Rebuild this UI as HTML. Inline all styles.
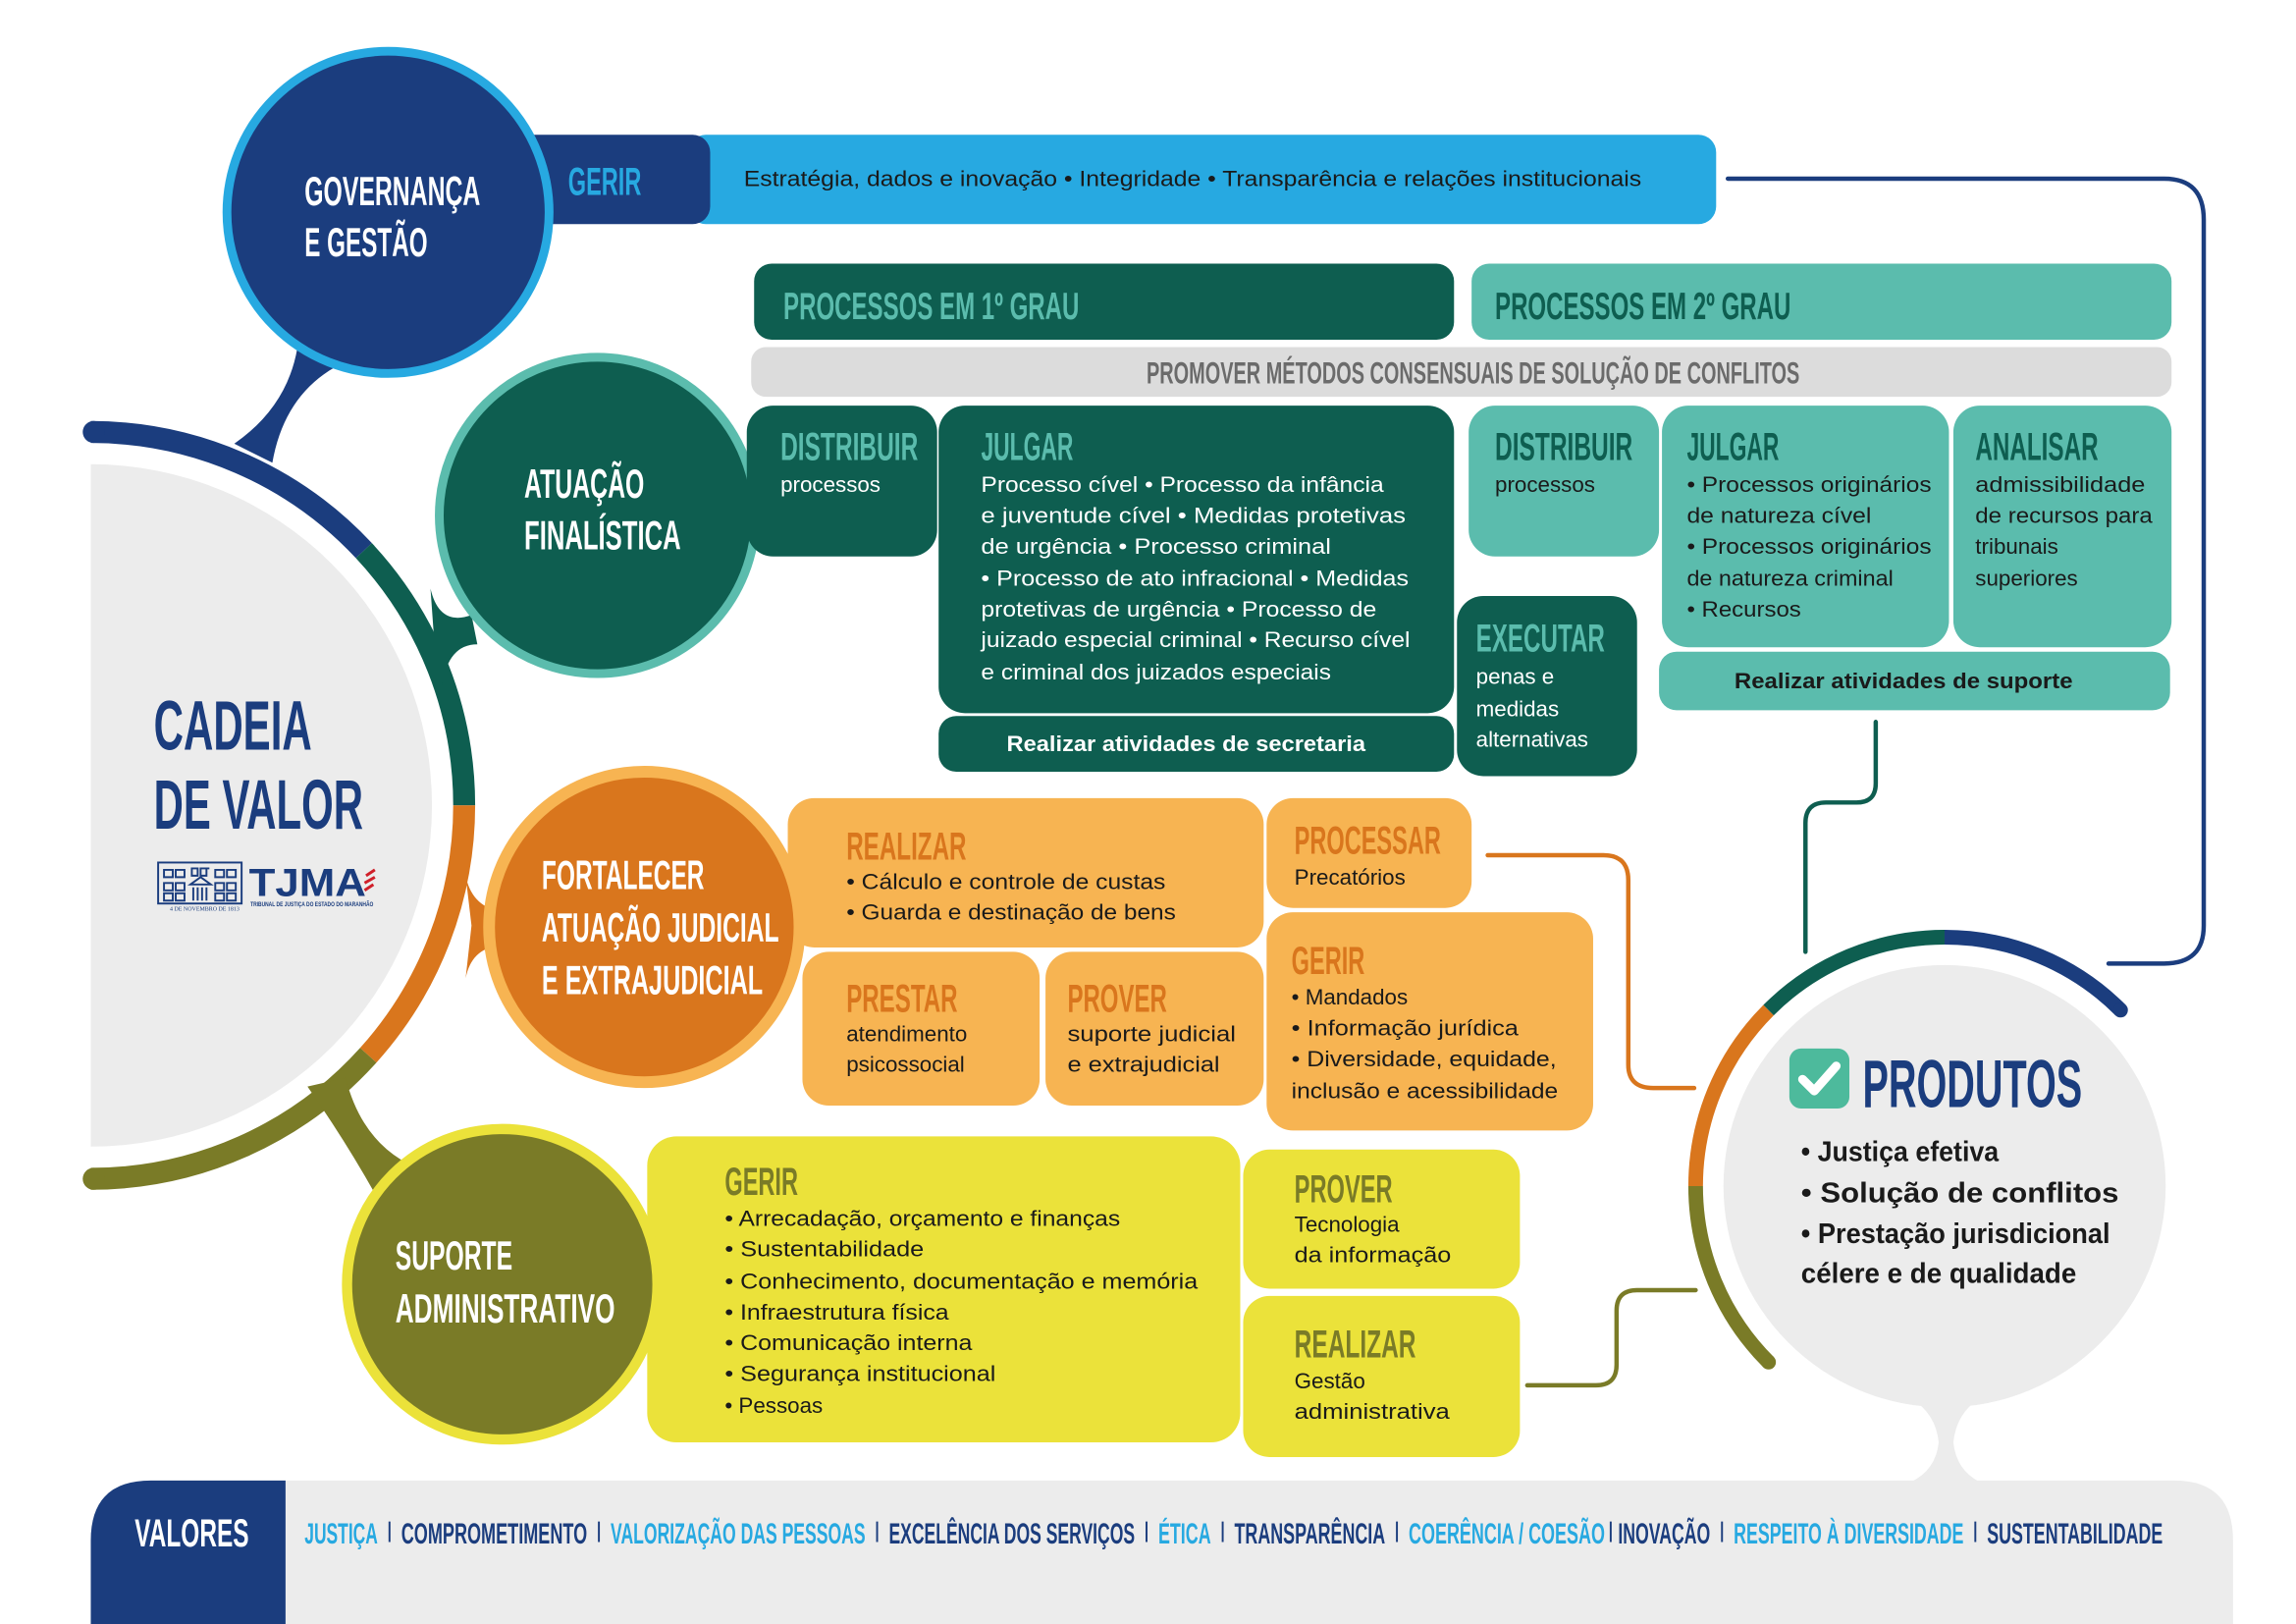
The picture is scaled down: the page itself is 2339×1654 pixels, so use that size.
<!DOCTYPE html>
<html><head><meta charset="utf-8"><style>
html,body{margin:0;padding:0;background:#fff;}
svg{display:block;}
.h{font-family:"Liberation Sans Narrow","Liberation Sans",sans-serif;font-weight:bold;}
.b{font-family:"Liberation Sans",sans-serif;font-size:15px;}
</style></head><body>
<svg width="2339" height="1654" viewBox="0 0 1568 1109" preserveAspectRatio="none" xmlns="http://www.w3.org/2000/svg">
<rect width="1568" height="1109" fill="#fff"/>

<path d="M62,317 A233,233 0 0 1 62,783 Z" fill="#ececec"/>
<g fill="none" stroke-width="15">
<path d="M62,295 A255,255 0 0 1 248.5,376" stroke="#1b3d7e"/>
<path d="M248.5,376 A255,255 0 0 1 317,550" stroke="#0e5e50"/>
<path d="M317,550 A255,255 0 0 1 251.5,720.6" stroke="#d9761d"/>
<path d="M251.5,720.6 A255,255 0 0 1 62,805" stroke="#7a7b27"/>
</g>
<circle cx="64" cy="295" r="7.5" fill="#1b3d7e"/>
<circle cx="64" cy="805" r="7.5" fill="#7a7b27"/>

<path d="M203,238 Q196,278 160,303 L186,316 Q194,270 230,250 Z" fill="#1b3d7e"/>
<path d="M294,402 Q300,428 322,420 L326,440 Q306,440 302,468 L296,430 Z" fill="#0e5e50"/>
<path d="M318,598 Q322,618 340,622 L340,646 Q322,648 318,668 L322,632 Z" fill="#d9761d"/>
<path d="M210,742 L236,736 Q246,775 274,792 L262,826 Q240,785 210,742 Z" fill="#7a7b27"/>

<text class="h" x="105" y="512" font-size="48" fill="#1b3d7e" textLength="108" lengthAdjust="spacingAndGlyphs">CADEIA</text>
<text class="h" x="105" y="566" font-size="48" fill="#1b3d7e" textLength="143" lengthAdjust="spacingAndGlyphs">DE VALOR</text>
<g fill="none" stroke="#1b3d7e" stroke-width="1.3">
<rect x="108" y="589" width="57" height="28"/>
<path d="M130,604 L137,599 L144,604 Z"/>
<path d="M112,594h6v5h-6zM120,594h6v5h-6zM147,594h6v5h-6zM155,594h6v5h-6zM112,603h6v5h-6zM120,603h6v5h-6zM147,603h6v5h-6zM155,603h6v5h-6zM112,610h6v5h-6zM120,610h6v5h-6zM147,610h6v5h-6zM155,610h6v5h-6zM131,593h4v5h-4zM137,593h4v5h-4zM143,593h-4"/>
<path d="M132,606v9M135,606v9M138,606v9M141,606v9"/>
</g>
<text x="116" y="622" font-family="Liberation Serif,serif" font-size="4" fill="#1b3d7e">4 DE NOVEMBRO DE 1813</text>
<text x="170" y="612" font-family="Liberation Sans,sans-serif" font-weight="bold" font-size="27" fill="#1b3d7e" textLength="80" lengthAdjust="spacingAndGlyphs">TJMA</text>
<text x="171" y="619" font-family="Liberation Sans,sans-serif" font-weight="bold" font-size="4" fill="#1b3d7e" textLength="84" lengthAdjust="spacingAndGlyphs">TRIBUNAL DE JUSTIÇA DO ESTADO DO MARANHÃO</text>
<path d="M250,598 L256,594 M249,603 L256,599 M249,608 L255,604" stroke="#d0202a" stroke-width="2"/>

<rect x="470" y="92" width="702" height="61" rx="12" fill="#27a9e1"/>
<rect x="350" y="92" width="135" height="61" rx="12" fill="#1b3d7e"/>
<circle cx="265" cy="145" r="110" fill="#1b3d7e" stroke="#27a9e1" stroke-width="6"/>
<text class="h" x="208" y="140" font-size="28" fill="#fff" textLength="120" lengthAdjust="spacingAndGlyphs">GOVERNANÇA</text>
<text class="h" x="208" y="175" font-size="28" fill="#fff" textLength="84" lengthAdjust="spacingAndGlyphs">E GESTÃO</text>
<text class="h" x="388" y="133" font-size="27" fill="#27a9e1" textLength="50" lengthAdjust="spacingAndGlyphs">GERIR</text>
<text class="b" x="508" y="127" font-size="16" fill="#1a1a1a" textLength="613" lengthAdjust="spacingAndGlyphs">Estratégia, dados e inovação • Integridade •  Transparência e relações institucionais</text>
<path d="M1180,122 L1478,122 Q1505,122 1505,150 L1505,632 Q1505,658 1478,658 L1440,658" fill="none" stroke="#1b3d7e" stroke-width="3" stroke-linecap="round"/>

<circle cx="408" cy="352" r="108" fill="#0e5e50" stroke="#5bbcad" stroke-width="6"/>
<text class="h" x="358" y="340" font-size="28" fill="#fff" textLength="82" lengthAdjust="spacingAndGlyphs">ATUAÇÃO</text>
<text class="h" x="358" y="375" font-size="28" fill="#fff" textLength="107" lengthAdjust="spacingAndGlyphs">FINALÍSTICA</text>

<rect x="515" y="180" width="478" height="52" rx="12" fill="#0e5e50"/>
<text class="h" x="535" y="218" font-size="26" fill="#5bbcad" textLength="202" lengthAdjust="spacingAndGlyphs">PROCESSOS EM 1º GRAU</text>
<rect x="1005" y="180" width="478" height="52" rx="12" fill="#5bbcad"/>
<text class="h" x="1021" y="218" font-size="26" fill="#0e5e50" textLength="202" lengthAdjust="spacingAndGlyphs">PROCESSOS EM 2º GRAU</text>
<rect x="513" y="237" width="970" height="34" rx="10" fill="#dcdcdc"/>
<text class="h" x="783" y="262" font-size="21" fill="#6b6b6b" textLength="446" lengthAdjust="spacingAndGlyphs">PROMOVER MÉTODOS CONSENSUAIS DE SOLUÇÃO DE CONFLITOS</text>

<rect x="510" y="277" width="130" height="103" rx="18" fill="#0e5e50"/>
<text class="h" x="533" y="314" font-size="27" fill="#5bbcad" textLength="94" lengthAdjust="spacingAndGlyphs">DISTRIBUIR</text>
<text class="b" x="533" y="336" fill="#fff">processos</text>

<rect x="641" y="277" width="352" height="210" rx="18" fill="#0e5e50"/>
<text class="h" x="670" y="314" font-size="27" fill="#5bbcad" textLength="63" lengthAdjust="spacingAndGlyphs">JULGAR</text>
<g class="b" fill="#fff">
<text x="670" y="336" textLength="275" lengthAdjust="spacingAndGlyphs">Processo cível  •  Processo da infância</text>
<text x="670" y="357" textLength="290" lengthAdjust="spacingAndGlyphs">e  juventude cível  • Medidas protetivas</text>
<text x="670" y="378" textLength="239" lengthAdjust="spacingAndGlyphs">de urgência  •  Processo criminal</text>
<text x="670" y="400" textLength="292" lengthAdjust="spacingAndGlyphs">•  Processo de ato infracional • Medidas</text>
<text x="670" y="421" textLength="270" lengthAdjust="spacingAndGlyphs">protetivas de urgência • Processo de</text>
<text x="670" y="442" textLength="293" lengthAdjust="spacingAndGlyphs">juizado especial criminal • Recurso cível</text>
<text x="670" y="464" textLength="239" lengthAdjust="spacingAndGlyphs">e criminal dos juizados especiais</text>
</g>
<rect x="641" y="489" width="352" height="38" rx="12" fill="#0e5e50"/>
<text class="b" x="810" y="513" font-weight="bold" fill="#fff" text-anchor="middle" textLength="245" lengthAdjust="spacingAndGlyphs">Realizar atividades de secretaria</text>

<rect x="1003" y="277" width="130" height="103" rx="18" fill="#5bbcad"/>
<text class="h" x="1021" y="314" font-size="27" fill="#0e5e50" textLength="94" lengthAdjust="spacingAndGlyphs">DISTRIBUIR</text>
<text class="b" x="1021" y="336" fill="#1a1a1a">processos</text>

<rect x="1135" y="277" width="196" height="165" rx="18" fill="#5bbcad"/>
<text class="h" x="1152" y="314" font-size="27" fill="#0e5e50" textLength="63" lengthAdjust="spacingAndGlyphs">JULGAR</text>
<g class="b" fill="#1a1a1a">
<text x="1152" y="336" textLength="167" lengthAdjust="spacingAndGlyphs">• Processos originários</text>
<text x="1152" y="357" textLength="126" lengthAdjust="spacingAndGlyphs">de natureza cível</text>
<text x="1152" y="378" textLength="167" lengthAdjust="spacingAndGlyphs">• Processos originários</text>
<text x="1152" y="400" textLength="141" lengthAdjust="spacingAndGlyphs">de natureza criminal</text>
<text x="1152" y="421" textLength="78" lengthAdjust="spacingAndGlyphs">• Recursos</text>
</g>
<rect x="1334" y="277" width="149" height="165" rx="18" fill="#5bbcad"/>
<text class="h" x="1349" y="314" font-size="27" fill="#0e5e50" textLength="84" lengthAdjust="spacingAndGlyphs">ANALISAR</text>
<g class="b" fill="#1a1a1a">
<text x="1349" y="336" textLength="116" lengthAdjust="spacingAndGlyphs">admissibilidade</text>
<text x="1349" y="357" textLength="121" lengthAdjust="spacingAndGlyphs">de recursos para</text>
<text x="1349" y="378">tribunais</text>
<text x="1349" y="400">superiores</text>
</g>
<rect x="995" y="407" width="123" height="123" rx="18" fill="#0e5e50"/>
<text class="h" x="1008" y="445" font-size="27" fill="#5bbcad" textLength="88" lengthAdjust="spacingAndGlyphs">EXECUTAR</text>
<g class="b" fill="#fff">
<text x="1008" y="467">penas e</text>
<text x="1008" y="489">medidas</text>
<text x="1008" y="510">alternativas</text>
</g>
<rect x="1133" y="445" width="349" height="40" rx="12" fill="#5bbcad"/>
<text class="b" x="1300" y="470" font-weight="bold" fill="#1a1a1a" text-anchor="middle" textLength="231" lengthAdjust="spacingAndGlyphs">Realizar atividades de suporte</text>
<path d="M1281,493 L1281,535 Q1281,548 1268,548 L1247,548 Q1233,548 1233,562 L1233,650" fill="none" stroke="#0e5e50" stroke-width="3" stroke-linecap="round"/>

<rect x="538" y="545" width="325" height="102" rx="18" fill="#f7b452"/>
<rect x="865" y="545" width="140" height="75" rx="18" fill="#f7b452"/>
<rect x="548" y="650" width="162" height="105" rx="18" fill="#f7b452"/>
<rect x="714" y="650" width="149" height="105" rx="18" fill="#f7b452"/>
<rect x="865" y="623" width="223" height="149" rx="18" fill="#f7b452"/>
<circle cx="440" cy="633" r="106" fill="#d9761d" stroke="#f7b452" stroke-width="8"/>
<text class="h" x="370" y="607" font-size="28" fill="#fff" textLength="111" lengthAdjust="spacingAndGlyphs">FORTALECER</text>
<text class="h" x="370" y="643" font-size="28" fill="#fff" textLength="162" lengthAdjust="spacingAndGlyphs">ATUAÇÃO JUDICIAL</text>
<text class="h" x="370" y="679" font-size="28" fill="#fff" textLength="151" lengthAdjust="spacingAndGlyphs">E EXTRAJUDICIAL</text>
<g class="h" font-size="27" fill="#d9761d">
<text x="578" y="587" textLength="82" lengthAdjust="spacingAndGlyphs">REALIZAR</text>
<text x="884" y="583" textLength="100" lengthAdjust="spacingAndGlyphs">PROCESSAR</text>
<text x="578" y="691" textLength="76" lengthAdjust="spacingAndGlyphs">PRESTAR</text>
<text x="729" y="691" textLength="68" lengthAdjust="spacingAndGlyphs">PROVER</text>
<text x="882" y="665" textLength="50" lengthAdjust="spacingAndGlyphs">GERIR</text>
</g>
<g class="b" fill="#1a1a1a">
<text x="578" y="607" textLength="218" lengthAdjust="spacingAndGlyphs">• Cálculo e controle de custas</text>
<text x="578" y="628" textLength="225" lengthAdjust="spacingAndGlyphs">• Guarda e destinação de bens</text>
<text x="884" y="604">Precatórios</text>
<text x="578" y="711">atendimento</text>
<text x="578" y="732">psicossocial</text>
<text x="729" y="711" textLength="115" lengthAdjust="spacingAndGlyphs">suporte judicial</text>
<text x="729" y="732" textLength="104" lengthAdjust="spacingAndGlyphs">e extrajudicial</text>
<text x="882" y="686">• Mandados</text>
<text x="882" y="707" textLength="155" lengthAdjust="spacingAndGlyphs">• Informação jurídica</text>
<text x="882" y="728" textLength="181" lengthAdjust="spacingAndGlyphs">• Diversidade, equidade,</text>
<text x="882" y="750" textLength="182" lengthAdjust="spacingAndGlyphs">inclusão e acessibilidade</text>
</g>
<path d="M1016,584 L1095,584 Q1112,584 1112,601 L1112,727 Q1112,743 1129,743 L1157,743" fill="none" stroke="#d9761d" stroke-width="3" stroke-linecap="round"/>

<rect x="442" y="776" width="405" height="209" rx="20" fill="#ebe23a"/>
<rect x="849" y="785" width="189" height="95" rx="18" fill="#ebe23a"/>
<rect x="849" y="885" width="189" height="110" rx="18" fill="#ebe23a"/>
<circle cx="343" cy="877" r="106" fill="#7a7b27" stroke="#ebe23a" stroke-width="7"/>
<text class="h" x="270" y="867" font-size="28" fill="#fff" textLength="80" lengthAdjust="spacingAndGlyphs">SUPORTE</text>
<text class="h" x="270" y="903" font-size="28" fill="#fff" textLength="150" lengthAdjust="spacingAndGlyphs">ADMINISTRATIVO</text>
<g class="h" font-size="27" fill="#7a7b27">
<text x="495" y="816" textLength="50" lengthAdjust="spacingAndGlyphs">GERIR</text>
<text x="884" y="821" textLength="67" lengthAdjust="spacingAndGlyphs">PROVER</text>
<text x="884" y="927" textLength="83" lengthAdjust="spacingAndGlyphs">REALIZAR</text>
</g>
<g class="b" fill="#1a1a1a">
<text x="495" y="837" textLength="270" lengthAdjust="spacingAndGlyphs">• Arrecadação, orçamento e finanças</text>
<text x="495" y="858" textLength="136" lengthAdjust="spacingAndGlyphs">• Sustentabilidade</text>
<text x="495" y="880" textLength="323" lengthAdjust="spacingAndGlyphs">• Conhecimento, documentação e memória</text>
<text x="495" y="901" textLength="153" lengthAdjust="spacingAndGlyphs">• Infraestrutura física</text>
<text x="495" y="922" textLength="169" lengthAdjust="spacingAndGlyphs">• Comunicação interna</text>
<text x="495" y="943" textLength="185" lengthAdjust="spacingAndGlyphs">• Segurança institucional</text>
<text x="495" y="965">• Pessoas</text>
<text x="884" y="841">Tecnologia</text>
<text x="884" y="862" textLength="107" lengthAdjust="spacingAndGlyphs">da informação</text>
<text x="884" y="948">Gestão</text>
<text x="884" y="969" textLength="106" lengthAdjust="spacingAndGlyphs">administrativa</text>
</g>
<path d="M1043,946 L1090,946 Q1104,946 1104,932 L1104,895 Q1104,881 1118,881 L1158,881" fill="none" stroke="#7a7b27" stroke-width="3" stroke-linecap="round"/>

<path d="M62,1109 L62,1052 Q62,1011 103,1011 L1485,1011 Q1525,1011 1525,1052 L1525,1109 Z" fill="#ececec"/>
<path d="M62,1109 L62,1052 Q62,1011 103,1011 L195,1011 L195,1109 Z" fill="#1b3d7e"/>
<text class="h" x="92" y="1056" font-size="27" fill="#fff" textLength="78" lengthAdjust="spacingAndGlyphs">VALORES</text>
<g class="h" font-size="20">
<text x="208" y="1054" fill="#27a9e1" textLength="50" lengthAdjust="spacingAndGlyphs">JUSTIÇA</text>
<text x="274" y="1054" fill="#1b3d7e" textLength="127" lengthAdjust="spacingAndGlyphs">COMPROMETIMENTO</text>
<text x="417" y="1054" fill="#27a9e1" textLength="174" lengthAdjust="spacingAndGlyphs">VALORIZAÇÃO DAS PESSOAS</text>
<text x="607" y="1054" fill="#1b3d7e" textLength="168" lengthAdjust="spacingAndGlyphs">EXCELÊNCIA DOS SERVIÇOS</text>
<text x="791" y="1054" fill="#27a9e1" textLength="36" lengthAdjust="spacingAndGlyphs">ÉTICA</text>
<text x="843" y="1054" fill="#1b3d7e" textLength="103" lengthAdjust="spacingAndGlyphs">TRANSPARÊNCIA</text>
<text x="962" y="1054" fill="#27a9e1" textLength="134" lengthAdjust="spacingAndGlyphs">COERÊNCIA / COESÃO</text>
<text x="1105" y="1054" fill="#1b3d7e" textLength="63" lengthAdjust="spacingAndGlyphs">INOVAÇÃO</text>
<text x="1184" y="1054" fill="#27a9e1" textLength="157" lengthAdjust="spacingAndGlyphs">RESPEITO À DIVERSIDADE</text>
<text x="1357" y="1054" fill="#1b3d7e" textLength="120" lengthAdjust="spacingAndGlyphs">SUSTENTABILIDADE</text>
</g>
<g stroke="#1b3d7e" stroke-width="1.3">
<path d="M266,1039v14M409,1039v14M599,1039v14M783,1039v14M835,1039v14M954,1039v14M1100,1039v14M1176,1039v14M1349,1039v14"/>
</g>

<path d="M1305,955 L1352,955 Q1336,965 1334,985 Q1336,1004 1352,1012 L1305,1012 Q1322,1004 1324,985 Q1322,965 1305,955 Z" fill="#ececec"/>
<circle cx="1328" cy="810" r="151" fill="#ececec"/>
<g fill="none" stroke-width="10">
<path d="M1207.8,930.2 A170,170 0 0 1 1158,810" stroke="#7a7b27"/>
<path d="M1158,810 A170,170 0 0 1 1207.8,689.8" stroke="#d9761d"/>
<path d="M1207.8,689.8 A170,170 0 0 1 1328,640" stroke="#0e5e50"/>
<path d="M1328,640 A170,170 0 0 1 1448.2,689.8" stroke="#1b3d7e"/>
</g>
<circle cx="1207.8" cy="930.2" r="5" fill="#7a7b27"/>
<circle cx="1448.2" cy="689.8" r="5" fill="#1b3d7e"/>
<rect x="1222" y="716" width="41" height="41" rx="8" fill="#4dba9c"/>
<path d="M1231,737 L1239,745 L1254,728" fill="none" stroke="#fff" stroke-width="6" stroke-linecap="round" stroke-linejoin="round"/>
<text class="h" x="1272" y="756" font-size="46" fill="#1b3d7e" textLength="150" lengthAdjust="spacingAndGlyphs">PRODUTOS</text>
<g font-family="Liberation Sans,sans-serif" font-weight="bold" font-size="19" fill="#1a1a1a">
<text x="1230" y="793" textLength="135" lengthAdjust="spacingAndGlyphs">• Justiça efetiva</text>
<text x="1230" y="821" textLength="217" lengthAdjust="spacingAndGlyphs">• Solução de conflitos</text>
<text x="1230" y="849" textLength="211" lengthAdjust="spacingAndGlyphs">• Prestação jurisdicional</text>
<text x="1230" y="876" textLength="188" lengthAdjust="spacingAndGlyphs">célere e de qualidade</text>
</g>
</svg>
</body></html>
